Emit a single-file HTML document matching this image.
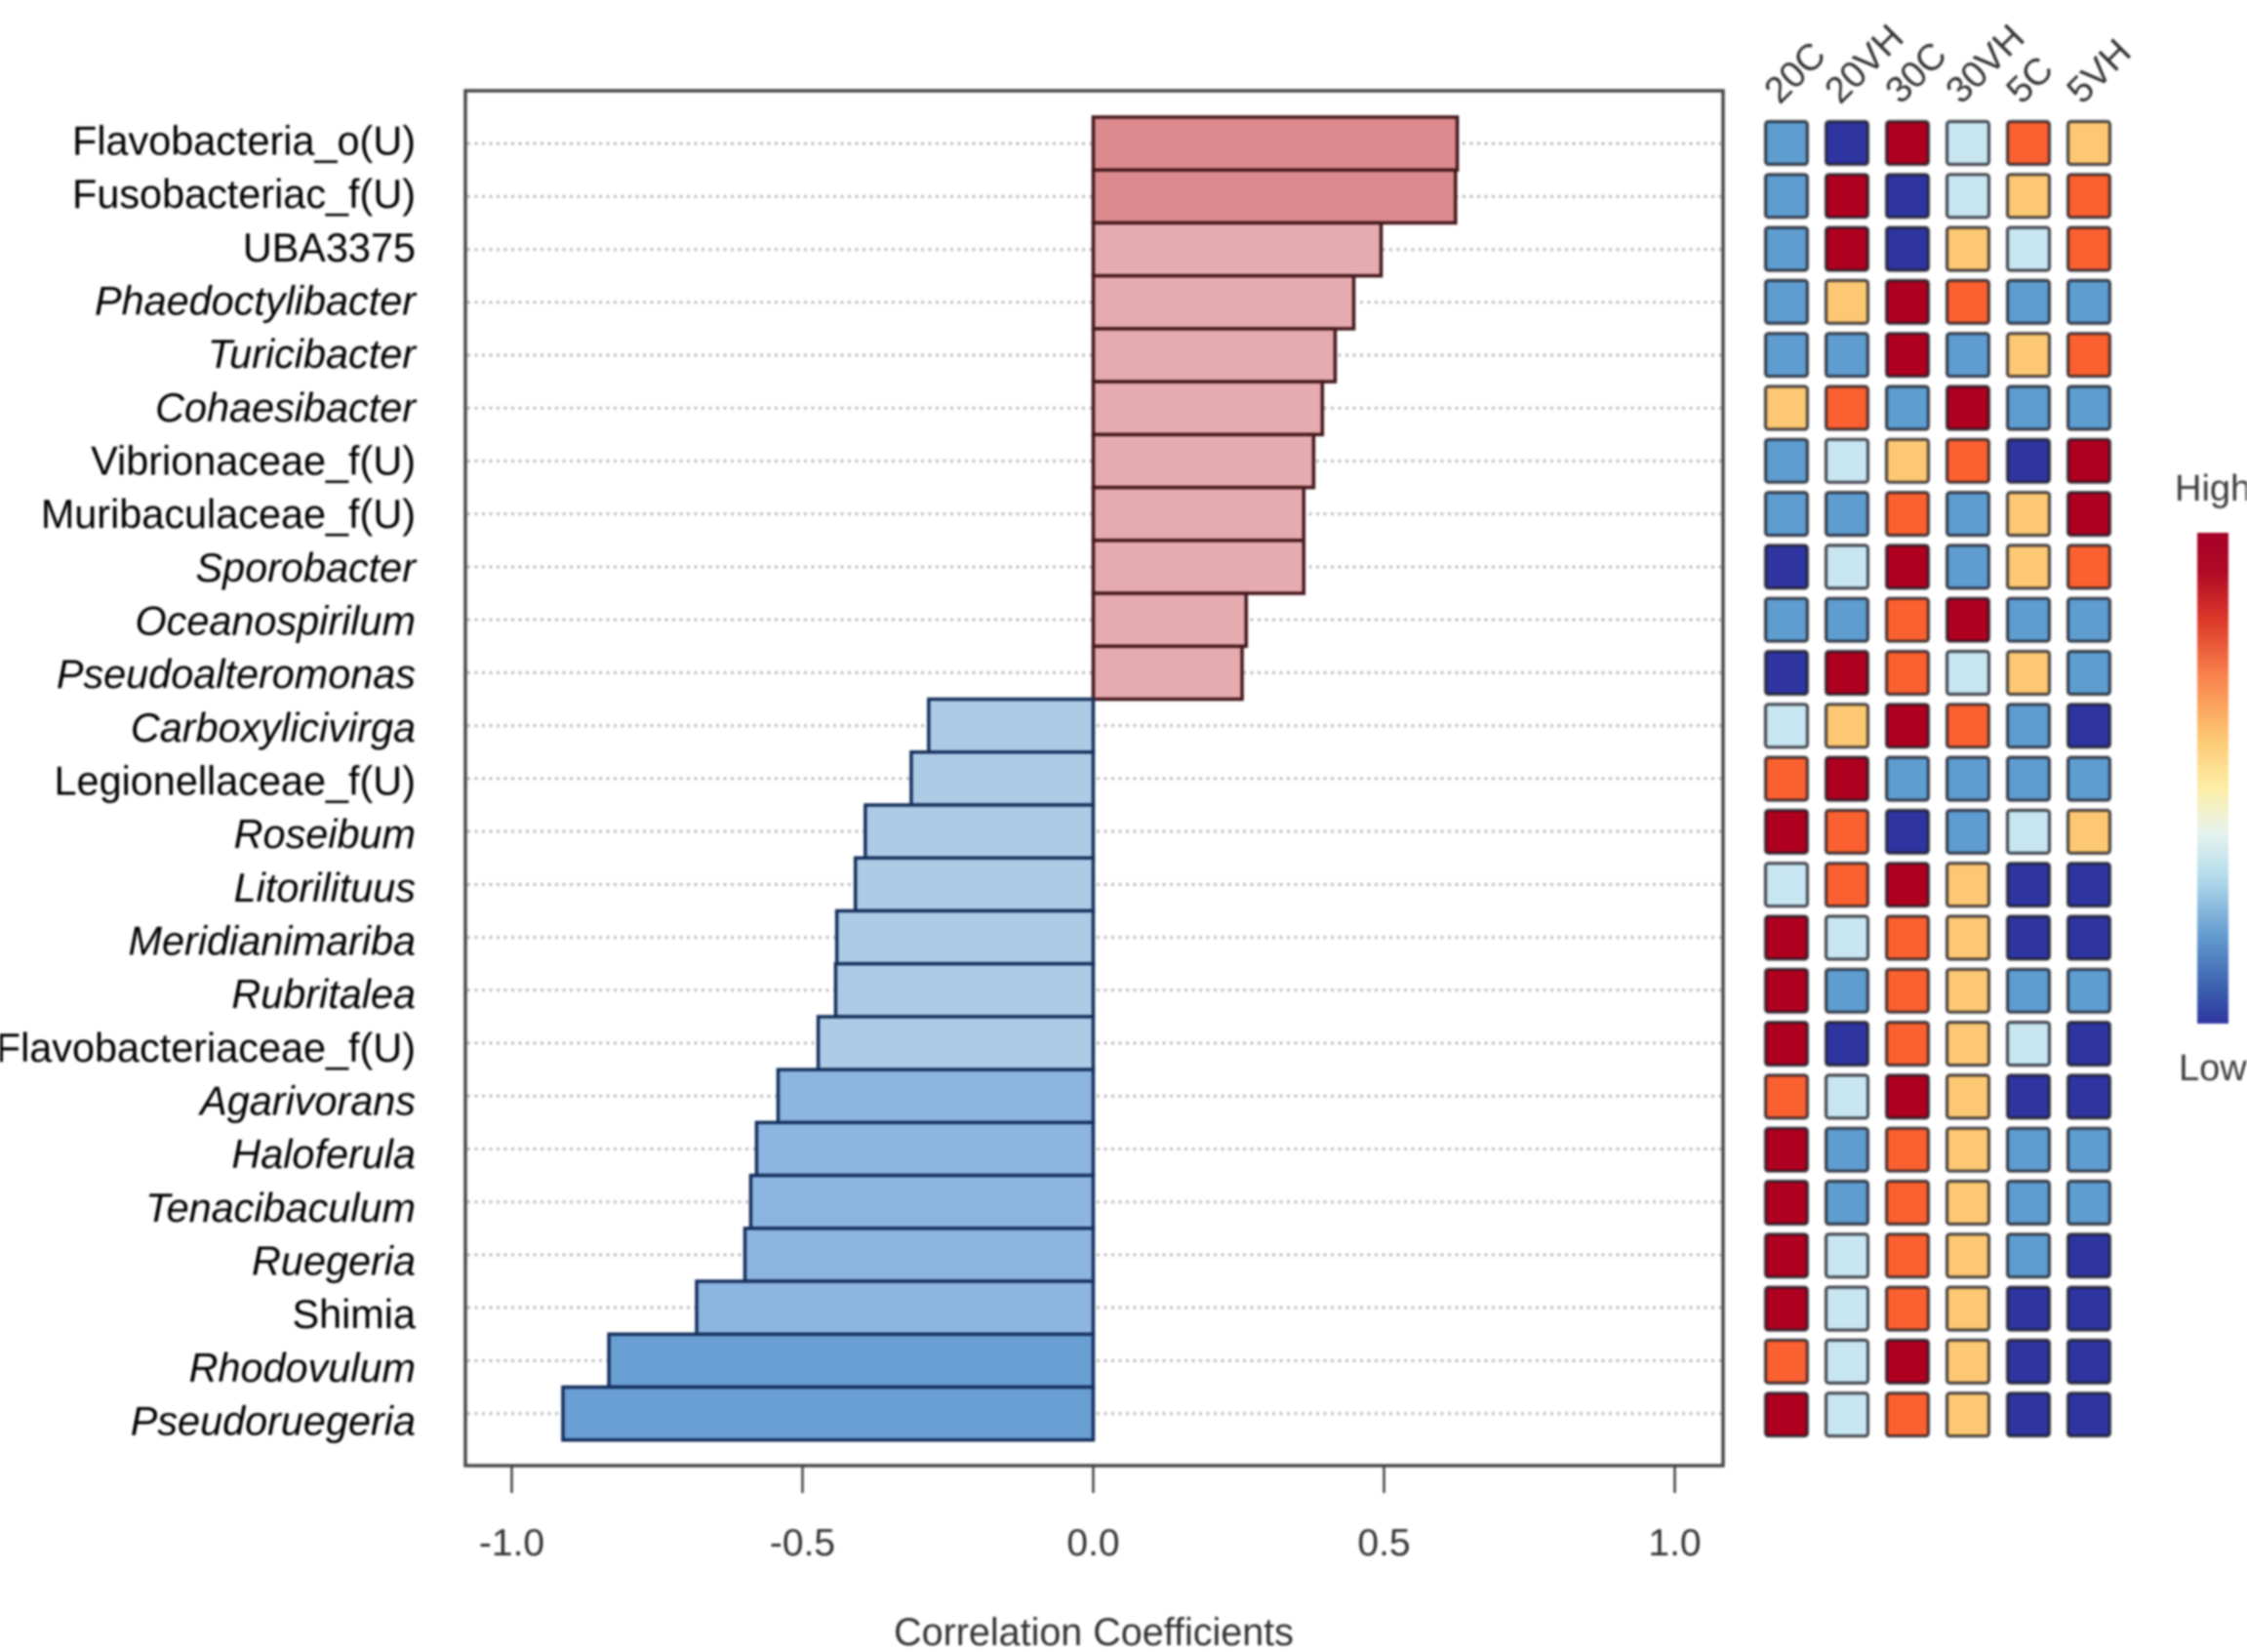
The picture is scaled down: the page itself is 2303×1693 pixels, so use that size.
<!DOCTYPE html>
<html lang="en">
<head>
<meta charset="utf-8">
<title>Correlation coefficients with heatmap</title>
<style>
html,body{margin:0;padding:0;background:#fff;width:2303px;height:1693px;overflow:hidden}
svg{display:block;filter:blur(1px)}
text{font-family:"Liberation Sans",sans-serif}
</style>
</head>
<body>
<svg id="chart" xmlns="http://www.w3.org/2000/svg" width="2303" height="1693" viewBox="0 0 2303 1693">
  <defs>
    <linearGradient id="legend-gradient" x1="0" y1="0" x2="0" y2="1">
      <stop offset="0" stop-color="#a50026"/>
      <stop offset="0.08" stop-color="#b00a26"/>
      <stop offset="0.18" stop-color="#dc3b2a"/>
      <stop offset="0.29" stop-color="#f9824c"/>
      <stop offset="0.42" stop-color="#fdc873"/>
      <stop offset="0.52" stop-color="#fdeea6"/>
      <stop offset="0.61" stop-color="#e6f3ec"/>
      <stop offset="0.70" stop-color="#b5dcec"/>
      <stop offset="0.82" stop-color="#649cd0"/>
      <stop offset="0.93" stop-color="#3a5fae"/>
      <stop offset="1" stop-color="#2f35a0"/>
    </linearGradient>
  </defs>
  <rect x="477" y="93" width="1289" height="1409" fill="#fff" stroke="#484848" stroke-width="3.5"/>
  <g id="grid"></g>
  <g id="bars"></g>
  <g id="xaxis"></g>
  <g id="ylabels"></g>
  <g id="heat"></g>
  <text x="1121" y="1686" text-anchor="middle" font-size="39.5" fill="#333">Correlation Coefficients</text>
  <text x="2229" y="513" font-size="38" fill="#3c3c3c">High</text>
  <rect x="2252" y="546" width="32" height="503" fill="url(#legend-gradient)"/>
  <text x="2233" y="1107" font-size="38" fill="#3c3c3c">Low</text>
</svg>
<script>
const categories = ["Flavobacteria_o(U)","Fusobacteriac_f(U)","UBA3375","Phaedoctylibacter","Turicibacter","Cohaesibacter","Vibrionaceae_f(U)","Muribaculaceae_f(U)","Sporobacter","Oceanospirilum","Pseudoalteromonas","Carboxylicivirga","Legionellaceae_f(U)","Roseibum","Litorilituus","Meridianimariba","Rubritalea","Flavobacteriaceae_f(U)","Agarivorans","Haloferula","Tenacibaculum","Ruegeria","Shimia","Rhodovulum","Pseudoruegeria"];
const uprightCategories = ["Flavobacteria_o(U)","Fusobacteriac_f(U)","UBA3375","Vibrionaceae_f(U)","Muribaculaceae_f(U)","Legionellaceae_f(U)","Flavobacteriaceae_f(U)","Shimia"];
const correlations = [0.626,0.623,0.495,0.448,0.416,0.394,0.379,0.362,0.362,0.263,0.256,-0.283,-0.313,-0.392,-0.409,-0.441,-0.443,-0.473,-0.542,-0.579,-0.589,-0.599,-0.682,-0.833,-0.912];
const xTicks = [-1.0,-0.5,0.0,0.5,1.0];
const xTickLabels = ["-1.0","-0.5","0.0","0.5","1.0"];
const samples = ["20C","20VH","30C","30VH","5C","5VH"];
const heat20C = [-0.9,-0.9,-0.9,-0.9,-0.9,0.3,-0.9,-0.9,-1.5,-0.9,-1.5,-0.3,0.9,1.5,-0.3,1.5,1.5,1.5,0.9,1.5,1.5,1.5,1.5,0.9,1.5];
const heat20VH = [-1.5,1.5,1.5,0.3,-0.9,0.9,-0.3,-0.9,-0.3,-0.9,1.5,0.3,1.5,0.9,0.9,-0.3,-0.9,-1.5,-0.3,-0.9,-0.9,-0.3,-0.3,-0.3,-0.3];
const heat30C = [1.5,-1.5,-1.5,1.5,1.5,-0.9,0.3,0.9,1.5,0.9,0.9,1.5,-0.9,-1.5,1.5,0.9,0.9,0.9,1.5,0.9,0.9,0.9,0.9,1.5,0.9];
const heat30VH = [-0.3,-0.3,0.3,0.9,-0.9,1.5,0.9,-0.9,-0.9,1.5,-0.3,0.9,-0.9,-0.9,0.3,0.3,0.3,0.3,0.3,0.3,0.3,0.3,0.3,0.3,0.3];
const heat5C = [0.9,0.3,-0.3,-0.9,0.3,-0.9,-1.5,0.3,0.3,-0.9,0.3,-0.9,-0.9,-0.3,-1.5,-1.5,-0.9,-0.3,-1.5,-0.9,-0.9,-0.9,-1.5,-1.5,-1.5];
const heat5VH = [0.3,0.9,0.9,-0.9,0.9,-0.9,1.5,1.5,0.9,-0.9,-0.9,-1.5,-0.9,0.3,-1.5,-1.5,-0.9,-1.5,-1.5,-0.9,-0.9,-1.5,-1.5,-1.5,-1.5];
const heatColumns = [heat20C,heat20VH,heat30C,heat30VH,heat5C,heat5VH];

const NS = "http://www.w3.org/2000/svg";
function make(tag, attrs, parent, text) {
  const el = document.createElementNS(NS, tag);
  for (const k in attrs) el.setAttribute(k, attrs[k]);
  if (text !== undefined) el.textContent = text;
  parent.appendChild(el);
  return el;
}
function slug(s) {
  return s.toLowerCase().replace(/[^a-z0-9]+/g, '-').replace(/^-|-$/g, '');
}
// Axis functions
function xScale(v) { return 1120.5 + 596 * v; }
function rowTop(i) { return 120 + i * 54.23; }
const rowHeight = 54.23;
function labelBaseline(i) { return 158.5 + i * 54.67; }
function cellX(j) { return 1808 + j * 62; }
function cellY(i) { return 123 + i * 54.3; }
function barFill(v) {
  if (v > 0.55) return "#dd8a8e";
  if (v > 0) return "#e6abaf";
  if (v < -0.75) return "#6a9fd4";
  if (v < -0.5) return "#8db5e2";
  return "#aecbe6";
}
function heatFill(z) {
  if (z <= -1.2) return "#2f35a0";
  if (z <= -0.6) return "#5f9dd0";
  if (z <= 0) return "#c8e6f2";
  if (z <= 0.6) return "#fdc873";
  if (z <= 1.2) return "#fb6130";
  return "#b0001f";
}

const gridG = document.getElementById("grid");
const barsG = document.getElementById("bars");
const xaxisG = document.getElementById("xaxis");
const ylabG = document.getElementById("ylabels");
const heatG = document.getElementById("heat");

categories.forEach(function (name, i) {
  const cy = rowTop(i) + rowHeight / 2;
  const line = make("line", {x1: 479, x2: 1764, y1: cy, y2: cy, stroke: "#bdbdbd", "stroke-width": 3, "stroke-dasharray": "3 4.5"}, gridG);
  
  

  const label = make("text", {x: 426, y: labelBaseline(i), "text-anchor": "end", "font-size": 41.4, fill: "#000", "font-style": uprightCategories.includes(name) ? "normal" : "italic"}, ylabG, name);
  
  
});

correlations.forEach(function (v, i) {
  const x0 = xScale(0), x1 = xScale(v);
  const bar = make("rect", {x: Math.min(x0, x1), y: rowTop(i), width: Math.abs(x1 - x0), height: rowHeight, fill: barFill(v), stroke: v > 0 ? "#44181c" : "#16305c", "stroke-width": 3.5}, barsG);
  
  
});

xTicks.forEach(function (t, i) {
  const tick = make("line", {x1: xScale(t), x2: xScale(t), y1: 1502, y2: 1530, stroke: "#444", "stroke-width": 2.5}, xaxisG);
  
  
  const lab = make("text", {x: xScale(t), y: 1594, "text-anchor": "middle", "font-size": 39, fill: "#333"}, xaxisG, xTickLabels[i]);
  
  
});

samples.forEach(function (s, j) {
  const px = cellX(j) + 16, py = 108;
  const lab = make("text", {x: px, y: py, "font-size": 38, fill: "#333", transform: "rotate(-45 " + px + " " + py + ")"}, heatG, s);
  
  
  heatColumns[j].forEach(function (z, i) {
    const cell = make("rect", {x: cellX(j) + 1.5, y: cellY(i) + 1.5, width: 43, height: 44, rx: 3, fill: heatFill(z), stroke: "#14141e", "stroke-opacity": 0.75, "stroke-width": 3.2}, heatG);
    
    
  });
});
</script>
</body>
</html>
